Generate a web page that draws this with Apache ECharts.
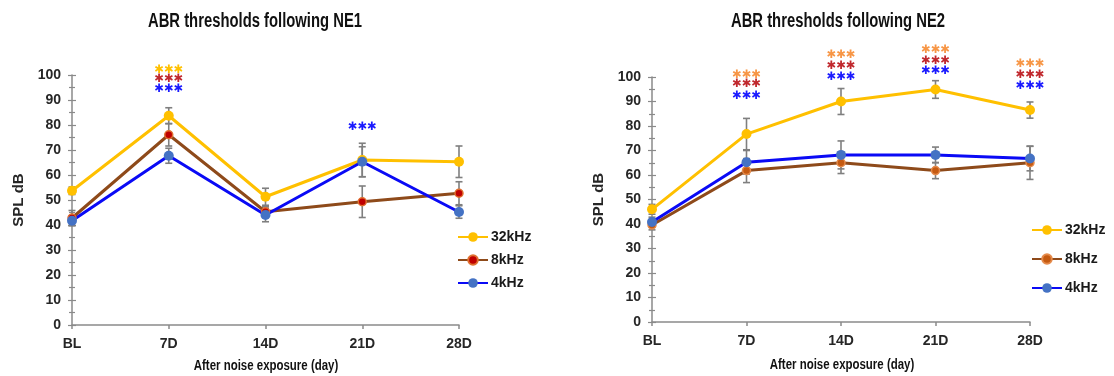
<!DOCTYPE html>
<html><head><meta charset="utf-8">
<script src="https://cdn.jsdelivr.net/npm/echarts@6/dist/echarts.min.js"></script>
<style>html,body{margin:0;padding:0;background:#fff}#c{width:1114px;height:376px}</style>
</head><body><div id="c"></div>
<script>
// ---- data ----
const categories = ['BL', '7D', '14D', '21D', '28D'];
const seriesNames = ['32kHz', '8kHz', '4kHz'];
// NE1
const ne1_32k = [53.7, 83.7, 51.3, 66.0, 65.3];
const ne1_8k  = [42.8, 76.1, 45.3, 49.3, 52.7];
const ne1_4k  = [41.7, 67.7, 44.0, 65.3, 45.2];
const ne1_32k_err = [1.5, 3.2, 3.4, 6.7, 6.3];
const ne1_8k_err  = [3.0, 4.5, 2.0, 6.3, 4.6];
const ne1_4k_err  = [2.0, 3.0, 2.7, 6.0, 2.5];
// NE2
const ne2_32k = [46.0, 76.7, 90.0, 94.9, 86.5];
const ne2_8k  = [39.6, 61.8, 65.0, 61.8, 65.0];
const ne2_4k  = [40.8, 65.2, 68.2, 68.2, 66.7];
const ne2_32k_err = [2.0, 6.4, 5.3, 3.6, 3.3];
const ne2_8k_err  = [2.0, 4.9, 4.4, 3.3, 6.8];
const ne2_4k_err  = [2.0, 4.8, 5.7, 3.2, 5.0];
// significance marks: [category index, y position (dB), colour key]
const ne1_sig = [[1, 102.0, 'gold'], [1, 98.3, 'red'], [1, 94.3, 'blue'], [3, 79.3, 'blue']];
const ne2_sig = [
  [1, 100.7, 'orange'], [1, 97.0, 'red'], [1, 92.4, 'blue'],
  [2, 109.0, 'orange'], [2, 104.4, 'red'], [2, 100.0, 'blue'],
  [3, 110.9, 'orange'], [3, 106.5, 'red'], [3, 102.4, 'blue'],
  [4, 105.5, 'orange'], [4, 101.0, 'red'], [4, 96.3, 'blue']
];
const titles = ['ABR thresholds following NE1', 'ABR thresholds following NE2'];
const yName = 'SPL dB';
const xName = 'After noise exposure (day)';

// ---- styles ----
const sigColors = { gold: '#FFC000', orange: '#F79646', red: '#C0282D', blue: '#1A1AFF' };
const lineColors = ['#FFC000', '#8E4A1A', '#0A0AF5'];
const markerColors = [['#FFC000', '#C00000', '#4472C4'], ['#FFC000', '#C55A11', '#4472C4']];
const markerBorders = [['#FFC000', '#E07030', '#4472C4'], ['#FFC000', '#E58A4A', '#4472C4']];
const SANS = '"Liberation Sans", Arial, sans-serif';

const grids = [
  { left: 72, top: 75, width: 387, height: 250 },
  { left: 652, top: 77, width: 378, height: 245 }
];

function xAxisFor(g) {
  return {
    type: 'category', gridIndex: g, data: categories, boundaryGap: false,
    axisLine: { lineStyle: { color: '#8a8a8a', width: 1.5 } },
    axisTick: { length: 4, lineStyle: { color: '#8a8a8a', width: 1.5 } },
    axisLabel: { color: '#262626', fontWeight: 'bold', fontSize: 14, fontFamily: SANS, margin: 12 },
    splitLine: { show: false }
  };
}
function yAxesFor(g) {
  const base = {
    type: 'value', gridIndex: g, min: 0, max: 100, interval: 10,
    splitLine: { show: false }
  };
  return [
    Object.assign({}, base, {
      axisLine: { show: true, lineStyle: { color: '#8a8a8a', width: 1.5 } },
      axisTick: { show: true, length: 4, lineStyle: { color: '#8a8a8a', width: 1.2 } },
      minorTick: { show: true, splitNumber: 2, length: 3, lineStyle: { color: '#8a8a8a', width: 1.2 } },
      axisLabel: { color: '#262626', fontWeight: 'bold', fontSize: 14, fontFamily: SANS, margin: 11 },
      name: yName, nameLocation: 'middle', nameGap: 46, nameRotate: 90,
      nameTextStyle: { color: '#262626', fontWeight: 'bold', fontSize: 15, fontFamily: SANS }
    }),
    Object.assign({}, base, {
      position: 'left',
      axisLine: { show: false },
      axisTick: { show: true, inside: true, length: 4, lineStyle: { color: '#8a8a8a', width: 1.2 } },
      minorTick: { show: true, splitNumber: 2, length: 3, lineStyle: { color: '#8a8a8a', width: 1.2 } },
      axisLabel: { show: false }
    })
  ];
}

function lineSeries(g, k, vals) {
  return {
    type: 'line', name: (g === 0 ? 'NE1 ' : 'NE2 ') + seriesNames[k],
    xAxisIndex: g, yAxisIndex: g * 2, data: vals,
    symbol: 'circle', symbolSize: k === 1 ? 8 : 10,
    lineStyle: { color: lineColors[k], width: 3 },
    itemStyle: {
      color: markerColors[g][k],
      borderColor: markerBorders[g][k],
      borderWidth: k === 1 ? 1.5 : 0
    },
    z: 3, animation: false
  };
}
function errSeries(g, vals, errs) {
  return {
    type: 'custom', xAxisIndex: g, yAxisIndex: g * 2, silent: true, z: 2, animation: false,
    data: vals.map((v, i) => [i, v - errs[i], v + errs[i]]),
    renderItem: function (params, api) {
      const lo = api.coord([api.value(0), api.value(1)]);
      const hi = api.coord([api.value(0), api.value(2)]);
      const cw = 3.5;
      const st = { stroke: '#7f7f7f', lineWidth: 1.6 };
      return {
        type: 'group', children: [
          { type: 'line', shape: { x1: lo[0], y1: lo[1], x2: hi[0], y2: hi[1] }, style: st },
          { type: 'line', shape: { x1: lo[0] - cw, y1: lo[1], x2: lo[0] + cw, y2: lo[1] }, style: st },
          { type: 'line', shape: { x1: hi[0] - cw, y1: hi[1], x2: hi[0] + cw, y2: hi[1] }, style: st }
        ]
      };
    }
  };
}
function sigSeries(g, marks) {
  return {
    type: 'custom', xAxisIndex: g, yAxisIndex: g * 2, silent: true, z: 4, clip: false, animation: false,
    data: marks.map(m => [m[0], m[1]]),
    renderItem: function (params, api) {
      const p = api.coord([api.value(0), api.value(1)]);
      const key = marks[params.dataIndex][2];
      return {
        type: 'text', x: p[0], y: p[1],
        style: {
          text: '\u2731\u2731\u2731', fill: sigColors[key],
          font: '11.5px "DejaVu Sans", sans-serif', align: 'center', verticalAlign: 'middle'
        }
      };
    }
  };
}

const vals = [[ne1_32k, ne1_8k, ne1_4k], [ne2_32k, ne2_8k, ne2_4k]];
const errs = [[ne1_32k_err, ne1_8k_err, ne1_4k_err], [ne2_32k_err, ne2_8k_err, ne2_4k_err]];
const sigs = [ne1_sig, ne2_sig];

const series = [];
[0, 1].forEach(g => {
  [0, 1, 2].forEach(k => series.push(errSeries(g, vals[g][k], errs[g][k])));
  [0, 1, 2].forEach(k => series.push(lineSeries(g, k, vals[g][k])));
  series.push(sigSeries(g, sigs[g]));
});

const legendPos = [{ left: 457, top: 230, itemGap: 9 }, { left: 1031, top: 223, itemGap: 15 }];

// condensed bold text (titles, x-axis names)
function narrowText(text, x, y, size, sx) {
  return {
    type: 'text', x: x, y: y, scaleX: sx, silent: true,
    style: {
      text: text, fill: '#111111', align: 'center', verticalAlign: 'middle',
      font: 'bold ' + size + 'px "Liberation Sans", Arial, sans-serif'
    }
  };
}

const option = {
  animation: false,
  backgroundColor: '#ffffff',
  graphic: [
    narrowText(titles[0], 255, 22, 19.5, 0.76),
    narrowText(titles[1], 838, 22, 19.5, 0.76),
    narrowText(xName, 266, 366, 14.5, 0.79),
    narrowText(xName, 842, 365, 14.5, 0.79)
  ],
  legend: [0, 1].map(g => ({
    orient: 'vertical', left: legendPos[g].left, top: legendPos[g].top, padding: 0,
    itemGap: legendPos[g].itemGap, itemWidth: 30, itemHeight: 12,
    data: seriesNames.map(n => (g === 0 ? 'NE1 ' : 'NE2 ') + n),
    formatter: name => name.split(' ')[1],
    textStyle: { color: '#1a1a1a', fontWeight: 'bold', fontSize: 14, fontFamily: SANS, padding: [0, 0, 0, -2] },
    selectedMode: false
  })),
  grid: grids,
  xAxis: [xAxisFor(0), xAxisFor(1)],
  yAxis: yAxesFor(0).concat(yAxesFor(1)),
  series: series
};

const chart = echarts.init(document.getElementById('c'), null, { renderer: 'canvas' });
chart.setOption(option);
</script>
</body></html>
